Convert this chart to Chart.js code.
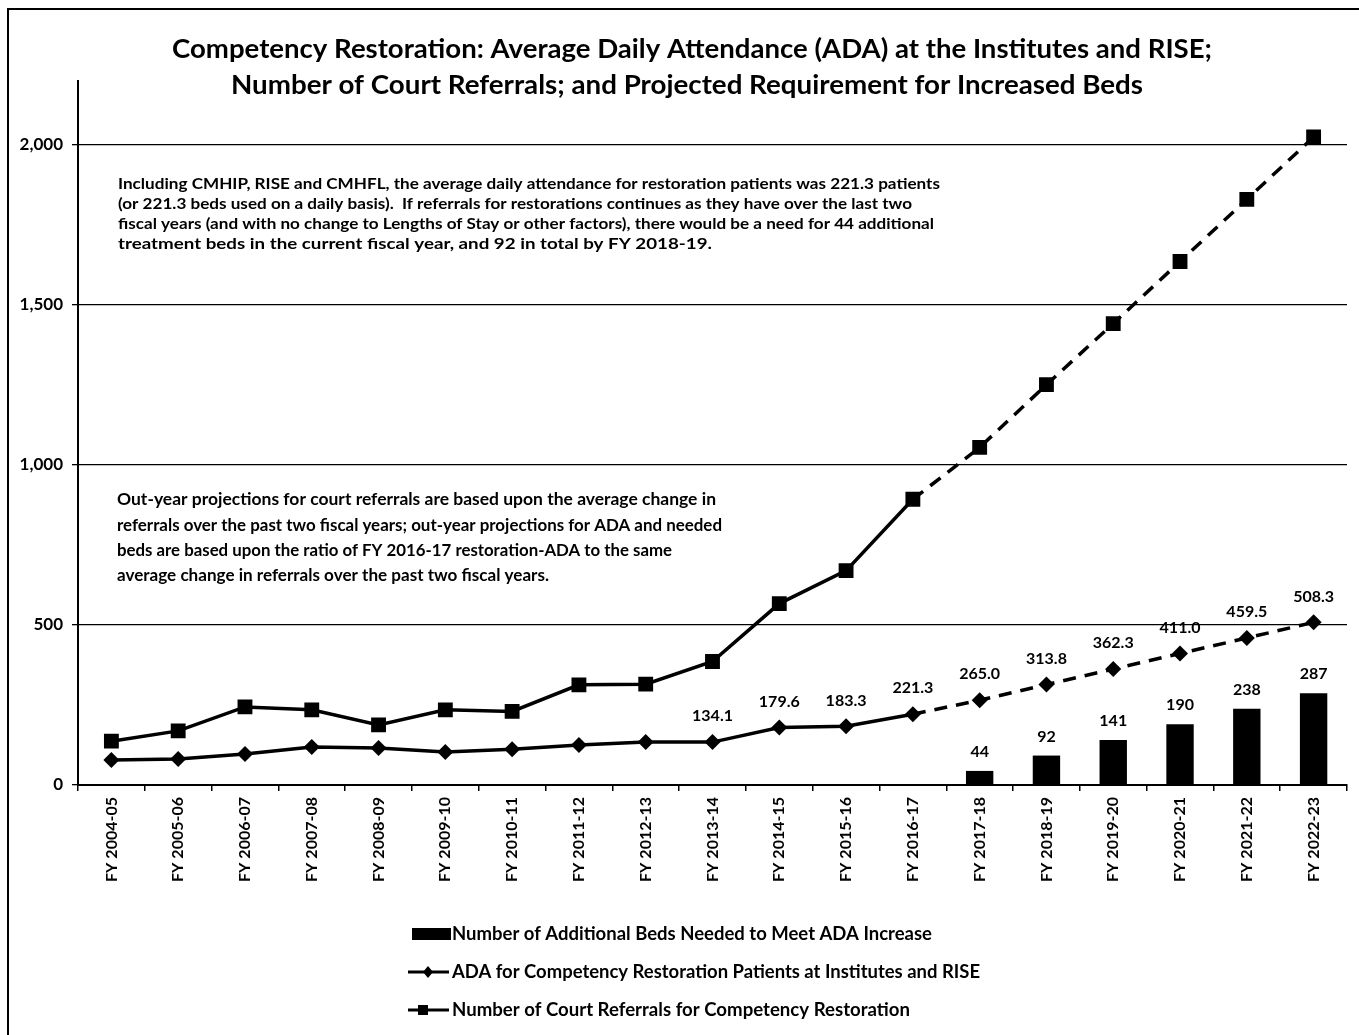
<!DOCTYPE html>
<html>
<head>
<meta charset="utf-8">
<script src="https://cdn.jsdelivr.net/npm/chart.js@4.4.1/dist/chart.umd.min.js"></script>
<style>
  html, body { margin: 0; padding: 0; background: #fff; overflow: hidden; }
  #wrap { position: relative; width: 1359px; height: 1035px; }
</style>
</head>
<body>
<div id="wrap"><canvas id="c" width="1359" height="1035"></canvas></div>
<script>
// ---------------- DATA ----------------
const categories = ['FY 2004-05','FY 2005-06','FY 2006-07','FY 2007-08','FY 2008-09','FY 2009-10',
  'FY 2010-11','FY 2011-12','FY 2012-13','FY 2013-14','FY 2014-15','FY 2015-16','FY 2016-17',
  'FY 2017-18','FY 2018-19','FY 2019-20','FY 2020-21','FY 2021-22','FY 2022-23'];

const bedsNeeded = [null,null,null,null,null,null,null,null,null,null,null,null,null,
  44, 92, 141, 190, 238, 287];

const adaValues = [78, 81, 97, 119, 116, 103, 112, 125, 134, 134.1, 179.6, 183.3, 221.3,
  265.0, 313.8, 362.3, 411.0, 459.5, 508.3];

const adaLabels = ['','','','','','','','','','134.1','179.6','183.3','221.3',
  '265.0','313.8','362.3','411.0','459.5','508.3'];

const referrals = [137, 169, 244, 235, 188, 235, 230, 313, 315, 386, 567, 670, 893,
  1055, 1251, 1442, 1636, 1830, 2025];

const yTicks = [0, 500, 1000, 1500, 2000];
const yMax = 2200;
const projectionStartIndex = 12; // segments after FY 2016-17 are dashed

const seriesNames = [
  'Number of Additional Beds Needed to Meet ADA Increase',
  'ADA for Competency Restoration Patients at Institutes and RISE',
  'Number of Court Referrals for Competency Restoration'
];

const titleLines = [
  'Competency Restoration: Average Daily Attendance (ADA) at the Institutes and RISE;',
  'Number of Court Referrals; and Projected Requirement for Increased Beds'
];

const note1 = [
  'Including CMHIP, RISE and CMHFL, the average daily attendance for restoration patients was 221.3 patients',
  '(or 221.3 beds used on a daily basis).  If referrals for restorations continues as they have over the last two',
  'fiscal years (and with no change to Lengths of Stay or other factors), there would be a need for 44 additional',
  'treatment beds in the current fiscal year, and 92 in total by FY 2018-19.'
];
const note2 = [
  'Out-year projections for court referrals are based upon the average change in',
  'referrals over the past two fiscal years; out-year projections for ADA and needed',
  'beds are based upon the ratio of FY 2016-17 restoration-ADA to the same',
  'average change in referrals over the past two fiscal years.'
];

// ---------------- DRAWING ----------------
const FONT = 'Lato, "Open Sans", "DejaVu Sans", sans-serif';
const dashSeg = ctx => ctx.p0DataIndex >= projectionStartIndex ? [13, 9] : undefined;

function fitText(ctx, text, x, y, w, align) {
  const m = ctx.measureText(text).width;
  const s = w / m;
  ctx.save();
  ctx.translate(x, y);
  ctx.scale(s, 1);
  ctx.textAlign = 'left';
  let x0 = 0;
  if (align === 'center') x0 = -m / 2;
  ctx.fillText(text, x0, 0);
  ctx.restore();
}

const decorPlugin = {
  id: 'decor',
  beforeDraw(chart) {
    const ctx = chart.ctx;
    ctx.save();
    ctx.fillStyle = '#fff';
    ctx.fillRect(0, 0, chart.width, chart.height);
    ctx.strokeStyle = '#000';
    ctx.lineWidth = 2;
    ctx.beginPath();
    ctx.moveTo(8, 1035); ctx.lineTo(8, 9); ctx.lineTo(1359, 9);
    ctx.stroke();
    ctx.restore();
  },
  afterDraw(chart) {
    const ctx = chart.ctx;
    ctx.save();
    ctx.fillStyle = '#000';
    ctx.textBaseline = 'middle';
    // title
    ctx.font = 'bold 26px ' + FONT;
    fitText(ctx, titleLines[0], 692, 50, 1040, 'center');
    fitText(ctx, titleLines[1], 687, 86, 912, 'center');
    // notes
    ctx.font = 'bold 16px ' + FONT;
    const n1w = [822, 794, 816, 594];
    note1.forEach((t, i) => fitText(ctx, t, 118, 184 + i * 20, n1w[i], 'left'));
    ctx.font = 'bold 17px ' + FONT;
    const n2w = [599, 605, 555, 432];
    note2.forEach((t, i) => fitText(ctx, t, 117, 500 + i * 25.3, n2w[i], 'left'));

    // legend
    ctx.font = 'bold 19px ' + FONT;
    const lw = [480, 528, 458];
    const ly = [934, 972, 1010];
    // bar swatch
    ctx.fillRect(412, ly[0] - 6, 39, 12);
    // ADA line + diamond
    ctx.lineWidth = 3;
    ctx.strokeStyle = '#000';
    ctx.beginPath(); ctx.moveTo(408, ly[1]); ctx.lineTo(449, ly[1]); ctx.stroke();
    ctx.beginPath();
    ctx.moveTo(428, ly[1] - 6); ctx.lineTo(433, ly[1]); ctx.lineTo(428, ly[1] + 6); ctx.lineTo(423, ly[1]);
    ctx.closePath(); ctx.fill();
    // referral line + square
    ctx.beginPath(); ctx.moveTo(408, ly[2]); ctx.lineTo(449, ly[2]); ctx.stroke();
    ctx.fillRect(418, ly[2] - 5, 10, 10);
    seriesNames.forEach((t, i) => fitText(ctx, t, 452, ly[i], lw[i], 'left'));
    ctx.restore();
  },
  afterDatasetsDraw(chart) {
    const ctx = chart.ctx;
    ctx.save();
    ctx.fillStyle = '#000';
    ctx.font = 'bold 16px ' + FONT;
    ctx.textAlign = 'center';
    ctx.textBaseline = 'middle';
    chart.getDatasetMeta(1).data.forEach((pt, i) => {
      if (adaLabels[i]) ctx.fillText(adaLabels[i], pt.x, pt.y - 26);
    });
    chart.getDatasetMeta(0).data.forEach((bar, i) => {
      if (bedsNeeded[i] != null) ctx.fillText(String(bedsNeeded[i]), bar.x, bar.y - 19);
    });
    ctx.restore();
  }
};

new Chart(document.getElementById('c'), {
  data: {
    labels: categories,
    datasets: [
      {
        type: 'bar',
        label: seriesNames[0],
        data: bedsNeeded,
        backgroundColor: '#000',
        borderWidth: 0,
        barPercentage: 0.41,
        categoryPercentage: 1.0,
        order: 3
      },
      {
        type: 'line',
        label: seriesNames[1],
        data: adaValues,
        borderColor: '#000',
        backgroundColor: '#000',
        borderWidth: 3.5,
        pointStyle: 'rectRot',
        pointRadius: 8,
        pointBorderWidth: 0,
        tension: 0,
        segment: { borderDash: dashSeg },
        order: 1
      },
      {
        type: 'line',
        label: seriesNames[2],
        data: referrals,
        borderColor: '#000',
        backgroundColor: '#000',
        borderWidth: 3.5,
        pointStyle: 'rect',
        pointRadius: 10.5,
        pointBorderWidth: 0,
        tension: 0,
        segment: { borderDash: dashSeg },
        order: 2
      }
    ]
  },
  options: {
    responsive: false,
    animation: false,
    devicePixelRatio: 1,
    layout: { padding: { top: 81, right: 12, left: 0, bottom: 0 } },
    plugins: {
      legend: { display: false },
      title: { display: false },
      tooltip: { enabled: false }
    },
    scales: {
      x: {
        offset: true,
        grid: {
          offset: true,
          drawOnChartArea: false,
          drawTicks: true,
          tickLength: 6,
          color: '#000',
          lineWidth: 1.5
        },
        border: { display: true, color: '#000', width: 2 },
        ticks: {
          color: '#000',
          font: { family: FONT, size: 16, weight: 'bold' },
          minRotation: 90,
          maxRotation: 90,
          padding: 6,
          autoSkip: false
        },
        afterFit(scale) { scale.height = 250; }
      },
      y: {
        min: 0,
        max: yMax,
        grid: {
          color: '#000',
          lineWidth: 1.3,
          drawTicks: true,
          tickLength: 6
        },
        border: { display: true, color: '#000', width: 2 },
        ticks: {
          color: '#000',
          font: { family: FONT, size: 17, weight: 'bold' },
          padding: 9,
          callback: v => v.toLocaleString('en-US')
        },
        afterBuildTicks(scale) { scale.ticks = yTicks.map(v => ({ value: v })); },
        afterFit(scale) { scale.width = 78; }
      }
    }
  },
  plugins: [decorPlugin]
});
</script>
</body>
</html>
